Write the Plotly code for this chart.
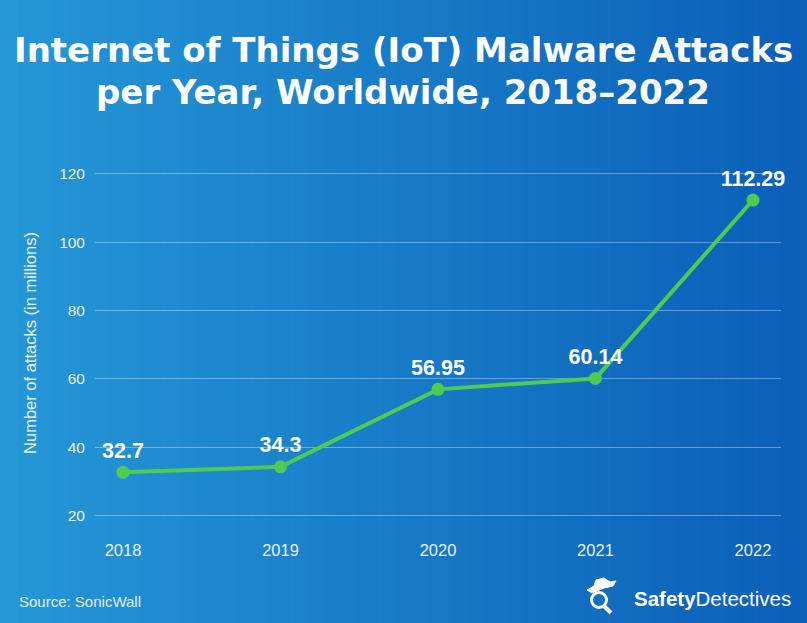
import plotly.graph_objects as go

years = ["2018", "2019", "2020", "2021", "2022"]
attacks = [32.7, 34.3, 56.95, 60.14, 112.29]
labels = ["32.7", "34.3", "56.95", "60.14", "112.29"]
y_ticks = [20, 40, 60, 80, 100, 120]
title_lines = ["Internet of Things (IoT) Malware Attacks", "per Year, Worldwide, 2018–2022"]

W, H = 807, 623
left_rgb = (37, 151, 215)
right_rgb = (11, 95, 184)

fig = go.Figure()
fig.add_trace(go.Scatter(
    x=years, y=attacks, mode="lines+markers+text",
    text=labels, textposition="top center",
    textfont=dict(family="Liberation Sans, Arial", size=21.5, color="white", weight="bold"),
    line=dict(color="#4fcb52", width=4),
    marker=dict(color="#4fcb52", size=13),
    cliponaxis=False, hoverinfo="skip",
))

mt, mb, ml, mr = 160, 97, 95, 26
ph = H - mt - mb
pw = W - ml - mr

def px(x, y):
    return (x - ml) / pw, (H - mb - y) / ph

shapes = []
n = 120
for i in range(n):
    t = i / (n - 1)
    c = tuple(round(left_rgb[k] + (right_rgb[k] - left_rgb[k]) * t) for k in range(3))
    xa, _ = px(W * i / n - 0.5, 0)
    xb, _ = px(W * (i + 1) / n + 0.5, 0)
    shapes.append(dict(type="rect", xref="paper", yref="paper",
                       x0=xa, x1=xb, y0=-0.5, y1=1.5,
                       fillcolor="rgb(%d,%d,%d)" % c, line=dict(width=0), layer="below"))

# detective icon: tilted hat + magnifier
def path(points, close=True):
    s = ""
    for j, (x, y) in enumerate(points):
        a, b = px(x, y)
        s += ("M" if j == 0 else "L") + "%.5f,%.5f " % (a, b)
    return s + ("Z" if close else "")

hat = [(587, 590), (594, 586), (596, 580), (604, 578), (610, 582), (616, 581),
       (613, 586), (604, 588), (592, 593)]
shapes.append(dict(type="path", xref="paper", yref="paper", path=path(hat),
                   fillcolor="white", line=dict(color="white", width=1)))
cx, cy = px(599, 600)
r = 7.5 / pw
ry = 7.5 / ph
shapes.append(dict(type="circle", xref="paper", yref="paper",
                   x0=cx - r, x1=cx + r, y0=cy - ry, y1=cy + ry,
                   line=dict(color="white", width=3)))
shapes.append(dict(type="path", xref="paper", yref="paper",
                   path=path([(604, 606), (611, 613)], close=False),
                   line=dict(color="white", width=4)))

annotations = [
    dict(text="Source: SonicWall", xref="paper", yref="paper",
         x=(17 - ml) / pw, y=(H - mb - 601) / ph, xanchor="left", yanchor="middle",
         showarrow=False, font=dict(family="Liberation Sans, Arial", size=15, color="#e3eef8")),
    dict(text="<b>Safety</b>Detectives", xref="paper", yref="paper",
         x=(632 - ml) / pw, y=(H - mb - 598) / ph, xanchor="left", yanchor="middle",
         showarrow=False, font=dict(family="Liberation Sans, Arial", size=20.5, color="white")),
]
for line, yc in zip(title_lines, [50, 92]):
    annotations.append(dict(text="<b>%s</b>" % line, xref="paper", yref="paper",
                            x=(403 - ml) / pw, y=(H - mb - yc) / ph,
                            xanchor="center", yanchor="middle", showarrow=False,
                            font=dict(family="DejaVu Sans", size=34, color="white")))

fig.update_layout(
    width=W, height=H,
    margin=dict(t=mt, b=mb, l=ml, r=mr),
    paper_bgcolor=("rgb(%d,%d,%d)" % left_rgb),
    plot_bgcolor="rgba(0,0,0,0)",
    showlegend=False,
    shapes=shapes,
    annotations=annotations,
    xaxis=dict(type="category", range=[-0.178, 4.178], showgrid=False, zeroline=False,
               showline=False, ticks="", ticklen=0, ticklabelstandoff=12,
               tickfont=dict(family="Liberation Sans, Arial", size=16.5, color="#e8f1fa")),
    yaxis=dict(range=[17, 124], tickvals=y_ticks, showgrid=True,
               gridcolor="rgba(255,255,255,0.35)", gridwidth=1, zeroline=False,
               showline=False, ticks="", ticklabelstandoff=9,
               tickfont=dict(family="Liberation Sans, Arial", size=15.5, color="#e8f1fa"),
               title=dict(text="Number of attacks (in millions)", standoff=18,
                          font=dict(family="Liberation Sans, Arial", size=16.5, color="#e8f1fa"))),
)

fig.write_html("out.html", config={"displayModeBar": False},
               post_script="document.body.style.margin='0';")
